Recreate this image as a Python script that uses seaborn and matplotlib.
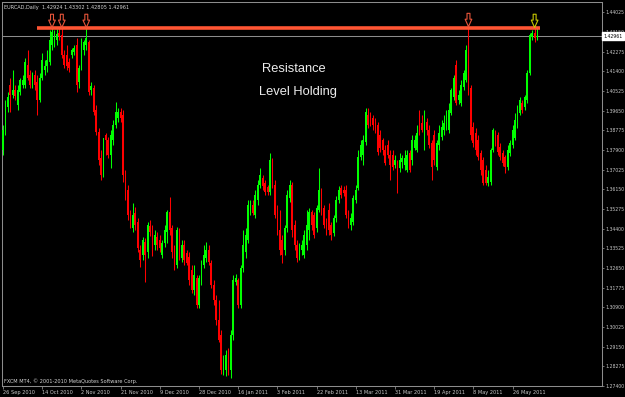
import matplotlib
matplotlib.use("Agg")
import matplotlib.pyplot as plt
from matplotlib.path import Path
import numpy as np
import pandas as pd
import seaborn as sns

# ---------------- data (EURCAD daily candles) ----------------
open_ = [1.3789,1.3878,1.3981,1.4079,1.4034,1.4056,1.3990,1.4047,1.4079,1.4079,
         1.4168,1.4123,1.4079,1.4123,1.4092,1.4012,1.4110,1.4145,1.4164,1.4181,
         1.4257,1.4270,1.4279,1.4310,1.4301,1.4212,1.4212,1.4181,1.4212,1.4225,
         1.4257,1.4092,1.4159,1.4234,1.4257,1.4270,1.4056,1.4066,1.3967,1.3869,
         1.3754,1.3687,1.3856,1.3834,1.3767,1.3834,1.3901,1.3932,1.3958,1.3945,
         1.3678,1.3611,1.3509,1.3443,1.3509,1.3469,1.3344,1.3322,1.3380,1.3335,
         1.3452,1.3443,1.3367,1.3402,1.3389,1.3322,1.3376,1.3424,1.3513,1.3443,
         1.3344,1.3278,1.3424,1.3309,1.3367,1.3331,1.3313,1.3255,1.3166,1.3220,
         1.3100,1.3211,1.3278,1.3309,1.3344,1.3287,1.3189,1.3122,1.3033,1.2966,
         1.2810,1.2810,1.2877,1.2810,1.2966,1.3202,1.3211,1.3100,1.3265,1.3335,
         1.3389,1.3522,1.3545,1.3500,1.3567,1.3634,1.3665,1.3643,1.3625,1.3602,
         1.3745,1.3634,1.3522,1.3433,1.3389,1.3344,1.3443,1.3576,1.3634,1.3456,
         1.3367,1.3322,1.3344,1.3322,1.3367,1.3433,1.3513,1.3500,1.3443,1.3522,
         1.3611,1.3532,1.3469,1.3522,1.3456,1.3420,1.3487,1.3567,1.3621,1.3611,
         1.3611,1.3509,1.3456,1.3469,1.3567,1.3621,1.3758,1.3767,1.3825,1.3945,
         1.3932,1.3932,1.3923,1.3901,1.3856,1.3834,1.3789,1.3812,1.3767,1.3767,
         1.3723,1.3710,1.3710,1.3736,1.3723,1.3700,1.3776,1.3745,1.3799,1.3789,
         1.3923,1.3910,1.3803,1.3914,1.3878,1.3821,1.3856,1.3714,1.3812,1.3847,
         1.3878,1.3901,1.3878,1.3954,1.4025,1.4168,1.4012,1.3999,1.4070,1.4101,
         1.4221,1.4066,1.3892,1.3865,1.3834,1.3776,1.3745,1.3700,1.3643,1.3647,
         1.3789,1.3865,1.3856,1.3803,1.3776,1.3758,1.3714,1.3776,1.3812,1.3843,
         1.3901,1.3954,1.3999,1.3981,1.4012,1.4132,1.4292,1.4310,1.42924]
high = [1.3901,1.4012,1.4047,1.4110,1.4145,1.4079,1.4079,1.4110,1.4123,1.4199,
        1.4234,1.4145,1.4136,1.4145,1.4123,1.4132,1.4221,1.4190,1.4234,1.4323,
        1.4333,1.4323,1.4328,1.4333,1.4333,1.4234,1.4257,1.4199,1.4244,1.4257,
        1.4288,1.4168,1.4288,1.4279,1.4333,1.4279,1.4092,1.4079,1.3990,1.3888,
        1.3789,1.3821,1.3865,1.3847,1.3878,1.3923,1.4003,1.3977,1.3977,1.3967,
        1.3700,1.3634,1.3522,1.3554,1.3536,1.3487,1.3367,1.3402,1.3398,1.3469,
        1.3478,1.3456,1.3433,1.3424,1.3411,1.3389,1.3456,1.3522,1.3580,1.3456,
        1.3367,1.3447,1.3443,1.3389,1.3389,1.3344,1.3335,1.3278,1.3278,1.3233,
        1.3233,1.3300,1.3367,1.3380,1.3367,1.3300,1.3211,1.3144,1.3122,1.2988,
        1.2877,1.2899,1.2909,1.2988,1.3233,1.3237,1.3220,1.3278,1.3433,1.3443,
        1.3567,1.3567,1.3567,1.3611,1.3656,1.3710,1.3678,1.3656,1.3634,1.3776,
        1.3754,1.3656,1.3545,1.3522,1.3411,1.3456,1.3611,1.3656,1.3647,1.3478,
        1.3389,1.3376,1.3389,1.3433,1.3522,1.3532,1.3522,1.3513,1.3545,1.3710,
        1.3621,1.3545,1.3487,1.3554,1.3469,1.3500,1.3585,1.3630,1.3634,1.3630,
        1.3634,1.3522,1.3509,1.3589,1.3634,1.3789,1.3834,1.3856,1.3977,1.3977,
        1.3958,1.3945,1.3932,1.3914,1.3878,1.3843,1.3812,1.3834,1.3789,1.3789,
        1.3767,1.3745,1.3776,1.3767,1.3789,1.3789,1.3789,1.3856,1.3856,1.3901,
        1.3967,1.3945,1.3967,1.3932,1.3901,1.3834,1.3878,1.3834,1.3901,1.3923,
        1.3945,1.3967,1.3999,1.4066,1.4123,1.4190,1.4056,1.4101,1.4145,1.4257,
        1.4337,1.4079,1.3914,1.3888,1.3856,1.3789,1.3758,1.3723,1.3700,1.3799,
        1.3888,1.3878,1.3869,1.3821,1.3789,1.3767,1.3812,1.3834,1.3901,1.3954,
        1.3990,1.4025,1.4012,1.4034,1.4145,1.4310,1.4323,1.4333,1.43302]
low = [1.3767,1.3856,1.3958,1.3958,1.4021,1.4012,1.3967,1.4034,1.4066,1.4066,
       1.4101,1.4066,1.4066,1.4056,1.3945,1.4003,1.4101,1.4123,1.4136,1.4168,
       1.4234,1.4248,1.4257,1.4279,1.4199,1.4155,1.4145,1.4136,1.4199,1.4212,
       1.4047,1.4066,1.4145,1.4212,1.4234,1.4034,1.4034,1.3945,1.3856,1.3723,
       1.3656,1.3669,1.3767,1.3754,1.3710,1.3812,1.3888,1.3914,1.3914,1.3647,
       1.3567,1.3478,1.3443,1.3424,1.3433,1.3335,1.3269,1.3300,1.3202,1.3309,
       1.3407,1.3318,1.3344,1.3344,1.3335,1.3309,1.3358,1.3376,1.3411,1.3309,
       1.3255,1.3265,1.3300,1.3291,1.3278,1.3278,1.3189,1.3153,1.3144,1.3087,
       1.3087,1.3189,1.3265,1.3291,1.3278,1.3176,1.3100,1.3011,1.2935,1.2792,
       1.2788,1.2784,1.2788,1.2775,1.2944,1.3189,1.3087,1.3087,1.3246,1.3309,
       1.3376,1.3500,1.3500,1.3487,1.3545,1.3621,1.3611,1.3589,1.3589,1.3589,
       1.3621,1.3487,1.3411,1.3322,1.3287,1.3322,1.3424,1.3558,1.3402,1.3344,
       1.3291,1.3300,1.3322,1.3309,1.3344,1.3389,1.3433,1.3398,1.3424,1.3513,
       1.3500,1.3443,1.3411,1.3411,1.3389,1.3407,1.3469,1.3554,1.3576,1.3585,
       1.3487,1.3443,1.3433,1.3456,1.3554,1.3611,1.3745,1.3723,1.3812,1.3888,
       1.3897,1.3878,1.3865,1.3767,1.3780,1.3767,1.3723,1.3754,1.3656,1.3700,
       1.3710,1.3598,1.3691,1.3710,1.3700,1.3691,1.3691,1.3723,1.3789,1.3780,
       1.3856,1.3869,1.3789,1.3856,1.3799,1.3656,1.3723,1.3700,1.3789,1.3834,
       1.3856,1.3878,1.3865,1.3945,1.4012,1.3990,1.3994,1.3986,1.4056,1.4092,
       1.4034,1.3834,1.3803,1.3767,1.3745,1.3678,1.3634,1.3634,1.3630,1.3634,
       1.3780,1.3808,1.3767,1.3745,1.3719,1.3687,1.3700,1.3763,1.3799,1.3834,
       1.3888,1.3945,1.3954,1.3967,1.3999,1.4123,1.4279,1.4270,1.42805]
close = [1.3878,1.3981,1.4025,1.4034,1.4056,1.4030,1.4056,1.4101,1.4101,1.4181,
         1.4110,1.4079,1.4123,1.4079,1.4012,1.4110,1.4190,1.4164,1.4190,1.4279,
         1.4315,1.4301,1.4306,1.4297,1.4212,1.4168,1.4164,1.4155,1.4234,1.4244,
         1.4079,1.4155,1.4248,1.4270,1.4288,1.4047,1.4075,1.3958,1.3869,1.3745,
         1.3678,1.3843,1.3834,1.3767,1.3856,1.3901,1.3958,1.3958,1.3932,1.3678,
         1.3611,1.3500,1.3456,1.3500,1.3456,1.3354,1.3300,1.3389,1.3322,1.3456,
         1.3424,1.3344,1.3411,1.3367,1.3354,1.3376,1.3433,1.3513,1.3433,1.3335,
         1.3278,1.3433,1.3313,1.3367,1.3300,1.3287,1.3211,1.3166,1.3233,1.3100,
         1.3220,1.3278,1.3322,1.3344,1.3291,1.3189,1.3122,1.3033,1.2944,1.2810,
         1.2846,1.2877,1.2833,1.2966,1.3211,1.3220,1.3100,1.3265,1.3367,1.3411,
         1.3545,1.3554,1.3509,1.3589,1.3634,1.3678,1.3630,1.3602,1.3602,1.3745,
         1.3634,1.3500,1.3433,1.3344,1.3322,1.3443,1.3589,1.3634,1.3433,1.3367,
         1.3309,1.3354,1.3367,1.3411,1.3456,1.3513,1.3456,1.3411,1.3532,1.3611,
         1.3522,1.3456,1.3424,1.3433,1.3411,1.3487,1.3567,1.3611,1.3589,1.3598,
         1.3500,1.3456,1.3487,1.3576,1.3611,1.3758,1.3812,1.3834,1.3958,1.3901,
         1.3914,1.3901,1.3878,1.3780,1.3799,1.3789,1.3732,1.3767,1.3723,1.3714,
         1.3745,1.3678,1.3745,1.3754,1.3754,1.3767,1.3700,1.3834,1.3834,1.3865,
         1.3878,1.3878,1.3923,1.3878,1.3812,1.3714,1.3745,1.3821,1.3865,1.3892,
         1.3910,1.3936,1.3967,1.4056,1.4110,1.3999,1.4034,1.4079,1.4132,1.4234,
         1.4056,1.3856,1.3821,1.3789,1.3758,1.3700,1.3643,1.3643,1.3669,1.3789,
         1.3878,1.3821,1.3780,1.3758,1.3732,1.3714,1.3789,1.3821,1.3878,1.3923,
         1.3977,1.4012,1.3967,1.4025,1.4132,1.4301,1.4310,1.4288,1.42961]

date_labels = ["26 Sep 2010", "14 Oct 2010", "2 Nov 2010", "21 Nov 2010", "9 Dec 2010",
               "28 Dec 2010", "16 Jan 2011", "3 Feb 2011", "22 Feb 2011", "13 Mar 2011",
               "31 Mar 2011", "19 Apr 2011", "8 May 2011", "26 May 2011"]
date_label_bars = [0, 16, 32, 48, 64, 80, 96, 112, 128, 144, 160, 176, 192, 208]
price_ticks = [1.27400, 1.28275, 1.29150, 1.30025, 1.30900, 1.31775, 1.32650, 1.33525,
               1.34400, 1.35275, 1.36150, 1.37025, 1.37900, 1.38775, 1.39650, 1.40525,
               1.41400, 1.42275, 1.43150, 1.44025]
resistance_level = 1.4334
resistance_bars = [14, 219]
arrow_bars = [20, 24, 34, 190, 217]
arrow_colors = ["#e8553a", "#e8553a", "#e8553a", "#e8553a", "#c8c800"]

# ---------------- style ----------------
sns.set_theme(style="dark", rc={"axes.facecolor": "black", "figure.facecolor": "black"})
plt.rcParams["font.family"] = ["DejaVu Sans"]

df = pd.DataFrame({"open": open_, "high": high, "low": low, "close": close})
df["bar"] = np.arange(len(df))
df["up"] = df["close"] >= df["open"]
colors = np.where(df["up"], "#00ff00", "#ff0000")

fig = plt.figure(figsize=(6.25, 3.97), dpi=100, facecolor="black")
ax = fig.add_axes([2 / 625, 11 / 397, 600 / 625, 384 / 397])
ax.set_facecolor("black")
ax.grid(False)

# candles
ax.vlines(df["bar"], df["low"], df["high"], colors=colors, linewidth=0.75, zorder=2)
body_bottom = np.minimum(df["open"], df["close"])
body_height = (df["close"] - df["open"]).abs().clip(lower=0.00012)
ax.bar(df["bar"], body_height, bottom=body_bottom, width=0.72, color=colors,
       linewidth=0, zorder=3)

# current price line
ax.axhline(close[-1], color="#8c8c8c", linewidth=0.75, zorder=1)

# resistance line
ax.hlines(resistance_level, resistance_bars[0], resistance_bars[1], color="#ff5533",
          linewidth=2.6, zorder=4)

# down arrows above the tested highs
arrow_path = Path([(-0.22, 1.0), (0.22, 1.0), (0.22, 0.12), (0.5, 0.12), (0.0, -1.0),
                   (-0.5, 0.12), (-0.22, 0.12), (-0.22, 1.0)],
                  [Path.MOVETO] + [Path.LINETO] * 6 + [Path.CLOSEPOLY])
arrow_y = [high[b] + 0.0031 for b in arrow_bars]
ax.scatter(arrow_bars, arrow_y, marker=arrow_path, s=92, facecolors="none",
           edgecolors=arrow_colors, linewidths=0.8, zorder=5)

# limits
ax.set_xlim(-0.41, 244.5)
ax.set_ylim(1.27393, 1.44481)

# axes styling
for sp in ax.spines.values():
    sp.set_visible(True)
    sp.set_color("#8c8c8c")
    sp.set_linewidth(0.75)

ax.yaxis.tick_right()
ax.set_yticks(price_ticks)
ax.set_yticklabels([f"{p:.5f}" for p in price_ticks])
ax.tick_params(axis="y", which="both", right=True, left=False, length=1.5, width=0.5,
               color="#a0a0a0", labelcolor="#c8c8c8", labelsize=3.3, pad=1.0)
ax.set_xticks(date_label_bars)
ax.set_xticklabels(date_labels, ha="left")
ax.tick_params(axis="x", which="both", bottom=True, length=2, width=0.5,
               color="#a0a0a0", labelcolor="#c8c8c8", labelsize=3.6, pad=1.2)
ax.set_xlabel("")
ax.set_ylabel("")

# current price box
ax.annotate(f"{close[-1]:.5f}", xy=(1.0, close[-1]), xycoords=("axes fraction", "data"),
            xytext=(1.0, 0), textcoords="offset points", ha="left", va="center",
            fontsize=3.3, color="black",
            bbox=dict(boxstyle="square,pad=0.3", fc="white", ec="white"),
            annotation_clip=False, zorder=10)

# texts
ax.text(0.487, 0.8255, "Resistance", transform=ax.transAxes, ha="center", va="center",
        color="#ececec", fontsize=9.3, family="Liberation Sans", zorder=6)
ax.text(0.493, 0.7656, "Level Holding", transform=ax.transAxes, ha="center", va="center",
        color="#ececec", fontsize=9.3, family="Liberation Sans", zorder=6)
fig.text(4 / 625, 1 - 7 / 397,
         f"EURCAD,Daily  {open_[-1]:.5f} {high[-1]:.5f} {low[-1]:.5f} {close[-1]:.5f}",
         ha="left", va="center", fontsize=3.6, color="#d4d4d4")
fig.text(4 / 625, 1 - 381 / 397, "FXCM MT4, \u00a9 2001-2010 MetaQuotes Software Corp.",
         ha="left", va="center", fontsize=3.6, color="#d4d4d4")

fig.savefig("out.png", dpi=100, facecolor="black")
